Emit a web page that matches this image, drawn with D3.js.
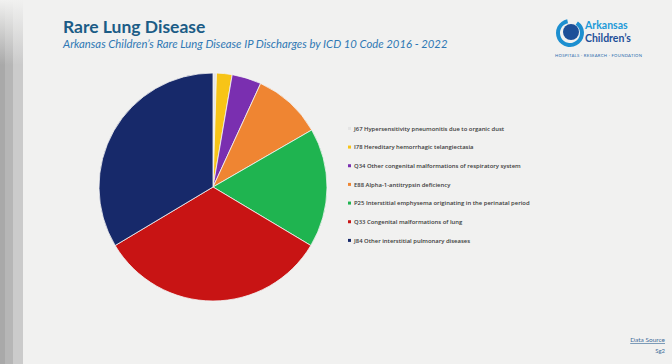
<!DOCTYPE html>
<meta charset="utf-8">
<script src="https://d3js.org/d3.v7.min.js"></script>
<style>
  body { margin: 0; background: #f1f1f0; }
  svg { display: block; }
</style>
<body>
<div id="chart"></div>
<script>
// ICD 10 codes, discharges (clockwise from 12 o'clock)
const codes = ["J67", "I78", "Q34", "E88", "P25", "Q33", "J84"];
const labels = [
  "J67 Hypersensitivity pneumonitis due to organic dust",
  "I78 Hereditary hemorrhagic telangiectasia",
  "Q34 Other congenital malformations of respiratory system",
  "E88 Alpha-1-antitrypsin deficiency",
  "P25 Interstitial emphysema originating in the perinatal period",
  "Q33 Congenital malformations of lung",
  "J84 Other interstitial pulmonary diseases"
];
const discharges = [2, 9, 17, 40, 69, 134, 137];
const colors = ["#e4e4e4", "#f7c417", "#7a2fb0", "#ef8532", "#1fb450", "#c81414", "#17296a"];

const W = 672, H = 364;
const svg = d3.select("#chart").append("svg")
  .attr("width", W).attr("height", H);

// slide background + grey edge on the left
svg.append("rect").attr("width", W).attr("height", H).attr("fill", "#f1f1f0");
const defs = svg.append("defs");
const fade = defs.append("linearGradient").attr("id", "fade")
  .attr("x1", 0).attr("y1", 0).attr("x2", 0).attr("y2", 1);
fade.append("stop").attr("offset", "0%").attr("stop-color", "#f1f1f0").attr("stop-opacity", 1);
fade.append("stop").attr("offset", "100%").attr("stop-color", "#f1f1f0").attr("stop-opacity", 0);
[[0, 5, "#a9a9a9"], [5, 8, "#b6b6b6"], [13, 10, "#cbcbcb"]].forEach(s => {
  svg.append("rect").attr("x", s[0]).attr("y", 0).attr("width", s[1]).attr("height", H).attr("fill", s[2]);
});
svg.append("rect").attr("x", 0).attr("y", 0).attr("width", 23).attr("height", 65).attr("fill", "url(#fade)");

// titles
svg.append("text").attr("x", 63).attr("y", 33)
  .style("font-family", "Lato").style("font-weight", 700).style("font-size", "17.5px")
  .attr("fill", "#1b5c86").text("Rare Lung Disease");
svg.append("text").attr("x", 63).attr("y", 48)
  .style("font-family", "Lato").style("font-style", "italic").style("font-size", "11.3px")
  .attr("fill", "#2f78b4").text("Arkansas Children\u2019s Rare Lung Disease IP Discharges by ICD 10 Code 2016 - 2022");

// logo
const logo = svg.append("g").attr("transform", "translate(570,33)");
logo.append("path")
  .attr("d", d3.arc()({innerRadius: 10, outerRadius: 14, startAngle: 0.6, endAngle: 2 * Math.PI - 0.2}))
  .attr("fill", "#1c8fd0");
logo.append("circle").attr("cx", 1).attr("cy", -1).attr("r", 8).attr("fill", "#1d4f98");
logo.append("text").attr("x", 15).attr("y", -4)
  .style("font-family", "Lato").style("font-weight", 700).style("font-size", "10.5px")
  .attr("fill", "#1d9ad8").text("Arkansas");
logo.append("text").attr("x", 15).attr("y", 9)
  .style("font-family", "Lato").style("font-weight", 700).style("font-size", "10.5px")
  .attr("fill", "#1d4f98").text("Children\u2019s");
logo.append("text").attr("x", -15).attr("y", 24)
  .style("font-family", "Lato").style("font-size", "4.2px").style("letter-spacing", "0.3px")
  .attr("fill", "#2a6cae").text("HOSPITALS \u00b7 RESEARCH \u00b7 FOUNDATION");

// pie
const cx = 213, cy = 187, r = 114;
const pie = d3.pie().sort(null).value(d => d)(discharges);
const arc = d3.arc().innerRadius(0).outerRadius(r);
svg.append("g").attr("transform", `translate(${cx},${cy})`)
  .selectAll("path").data(pie).join("path")
  .attr("d", arc)
  .attr("fill", (d, i) => colors[i])
  .attr("stroke", "#f4f4f4").attr("stroke-width", 0.8);

// legend
const y = d3.scalePoint().domain(codes).range([130.5, 242.5]);
const leg = svg.append("g").selectAll("g").data(codes).join("g")
  .attr("transform", d => `translate(348,${y(d)})`);
leg.append("rect").attr("x", 0).attr("y", -3.6).attr("width", 3).attr("height", 3)
  .attr("fill", (d, i) => colors[i]);
leg.append("text").attr("x", 6).attr("y", 0)
  .style("font-family", "Open Sans").style("font-weight", 600).style("font-size", "5.9px")
  .attr("fill", "#3a3a3a").text((d, i) => labels[i]);

// source
svg.append("text").attr("x", 665).attr("y", 342).attr("text-anchor", "end")
  .style("font-family", "Lato").style("font-size", "6.5px").style("text-decoration", "underline")
  .attr("fill", "#3f6e9a").text("Data Source");
svg.append("text").attr("x", 665).attr("y", 353).attr("text-anchor", "end")
  .style("font-family", "Lato").style("font-size", "6px")
  .attr("fill", "#3f6e9a").text("Sg2");
</script>
</body>
</html>
